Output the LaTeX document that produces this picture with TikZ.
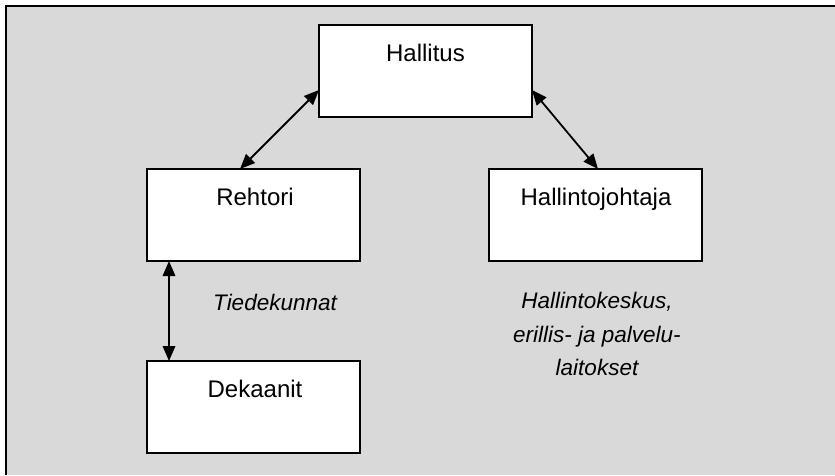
\documentclass[tikz,border=0pt]{standalone}
\usepackage{fontspec}
\setmainfont{Liberation Sans}
\usetikzlibrary{arrows.meta}
\definecolor{bggray}{HTML}{D9D9D9}
\begin{document}
\begin{tikzpicture}[x=1pt,y=-1pt,
  orgbox/.style={draw=black, line width=2pt, fill=white, rectangle, inner sep=0pt, outer sep=0pt,
    minimum width=213pt, minimum height=92pt, anchor=north west},
  boxtext/.style={anchor=base, inner sep=0pt, font=\fontsize{24}{28}\selectfont},
  unittext/.style={anchor=base, inner sep=0pt, align=center, font=\fontsize{22.5}{33.5}\selectfont\itshape},
  link/.style={line width=1.8pt, {Triangle[length=15pt,width=12.5pt]}-{Triangle[length=15pt,width=12.5pt]}}
]
\useasboundingbox (0,0) rectangle (835,475);
\fill[white] (0,0) rectangle (835,475);
\fill[bggray] (6,6) rectangle (835,475);
\draw[line width=2pt] (6,475) -- (6,6) -- (835,6);

\node[orgbox] (hall) at (319,25) {};
\node[orgbox] (reh) at (147,169) {};
\node[orgbox] (hj) at (489,169) {};
\node[orgbox] (dek) at (147,361) {};

\node[boxtext] (thall) at (425.5,61) {Hallitus};
\node[boxtext] (treh) at (255,205) {Rehtori};
\node[boxtext] (thj) at (596,205) {Hallintojohtaja};
\node[boxtext] (tdek) at (255,397) {Dekaanit};

\node[unittext] (tied) at (275,310) {Tiedekunnat};
\node[unittext, anchor=north] (hk) at (597,292) {Hallintokeskus,\\erillis- ja palvelu-\\laitokset};

\draw[link] ([yshift=27pt]hall.south west) -- ([xshift=93pt]reh.north west);
\draw[link] ([yshift=27pt]hall.south east) -- ([xshift=109pt]hj.north west);
\draw[link] ([xshift=22pt]reh.south west) -- ([xshift=22pt]dek.north west);
\end{tikzpicture}
\end{document}
